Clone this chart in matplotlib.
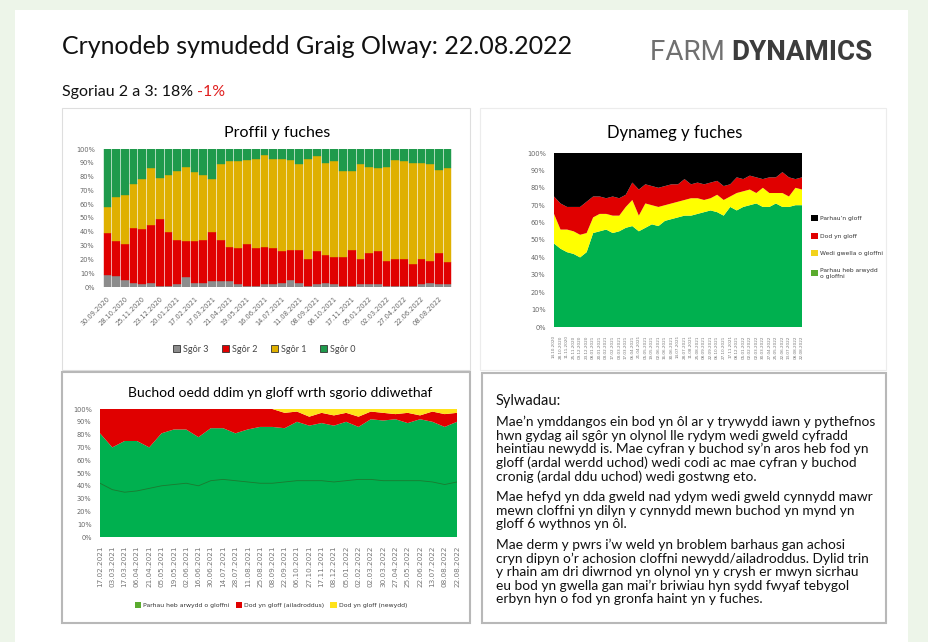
import matplotlib.pyplot as plt
from matplotlib.patches import Rectangle, Patch

plt.rcParams['font.family'] = ['Lato', 'DejaVu Sans']
NARROW = ['Liberation Sans Narrow', 'DejaVu Sans']

W, H = 929, 642

# dyddiadau sgorio
dates = ['30.09.2020', '14.10.2020', '28.10.2020', '11.11.2020', '25.11.2020',
         '09.12.2020', '23.12.2020', '08.01.2021', '20.01.2021', '03.02.2021',
         '17.02.2021', '03.03.2021', '17.03.2021', '06.04.2021', '21.04.2021',
         '05.05.2021', '19.05.2021', '02.06.2021', '16.06.2021', '30.06.2021',
         '14.07.2021', '28.07.2021', '11.08.2021', '25.08.2021', '08.09.2021',
         '22.09.2021', '06.10.2021', '27.10.2021', '17.11.2021', '08.12.2021',
         '05.01.2022', '02.02.2022', '02.03.2022', '30.03.2022', '27.04.2022',
         '25.05.2022', '22.06.2022', '13.07.2022', '08.08.2022', '22.08.2022']

# Proffil y fuches (%)
sgor3 = [9, 8, 5, 3, 2, 3, 1, 1, 2, 7, 3, 3, 4, 4, 4, 2, 1, 1, 2, 2,
         3, 5, 3, 1, 2, 3, 2, 1, 1, 2, 2, 2, 1, 1, 1, 1, 2, 3, 2, 2]
sgor2 = [30, 25, 26, 40, 40, 42, 48, 39, 32, 26, 30, 31, 36, 30, 25, 26, 30, 27, 27, 26,
         23, 22, 24, 19, 24, 20, 20, 21, 26, 18, 23, 24, 18, 19, 19, 16, 18, 16, 23, 16]
sgor1 = [19, 32, 36, 32, 36, 41, 30, 41, 50, 54, 50, 47, 38, 55, 62, 63, 61, 65, 67, 65,
         67, 65, 62, 73, 69, 67, 69, 62, 57, 69, 62, 60, 68, 72, 71, 73, 70, 70, 60, 68]
sgor0 = [42, 35, 33, 25, 22, 14, 21, 19, 16, 13, 17, 19, 22, 11, 9, 9, 8, 7, 4, 7,
         7, 8, 11, 7, 5, 10, 9, 16, 16, 11, 13, 14, 13, 8, 9, 10, 10, 11, 15, 14]

# Dynameg y fuches (%)
dyn_heb = [48, 45, 43, 42, 40, 43, 54, 55, 56, 54, 55, 57, 58, 55, 57, 59, 58, 61, 62, 63,
           64, 64, 65, 66, 67, 66, 64, 69, 67, 69, 70, 71, 69, 69, 71, 69, 69, 70, 70]
dyn_gwella = [17, 11, 13, 13, 13, 11, 9, 10, 9, 10, 9, 12, 15, 9, 14, 11, 11, 9, 9, 9,
              9, 10, 9, 7, 7, 10, 9, 6, 10, 9, 9, 6, 11, 8, 6, 8, 6, 10, 9]
dyn_dod = [10, 15, 13, 14, 16, 18, 12, 10, 9, 11, 10, 7, 10, 15, 11, 11, 11, 11, 11, 10,
           12, 8, 9, 9, 9, 8, 8, 7, 9, 7, 8, 9, 5, 9, 9, 12, 11, 5, 7]
dyn_parhau = [25, 29, 31, 31, 31, 28, 25, 25, 26, 25, 26, 24, 17, 21, 18, 19, 20, 19, 18, 18,
              15, 18, 17, 18, 17, 16, 19, 18, 14, 15, 13, 14, 15, 14, 14, 11, 14, 15, 14]

# Buchod oedd ddim yn gloff (%)
b_heb = [81, 70, 75, 75, 70, 81, 84, 84, 78, 85, 85, 81, 84, 86, 86,
         85, 90, 87, 89, 87, 90, 86, 92, 91, 92, 89, 92, 90, 86, 90]
b_ail = [19, 30, 25, 25, 30, 19, 16, 16, 22, 15, 15, 19, 16, 14, 14,
         12, 8, 7, 8, 8, 7, 8, 6, 6, 4, 8, 3, 8, 10, 7]
b_newydd = [0, 0, 0, 0, 0, 0, 0, 0, 0, 0, 0, 0, 0, 0, 0,
            3, 2, 6, 3, 5, 3, 6, 2, 3, 4, 3, 5, 2, 4, 3]
b_llinell = [42, 37, 35, 36, 38, 40, 41, 42, 40, 44, 45, 44, 43, 42, 42,
             43, 44, 44, 44, 43, 44, 45, 45, 44, 44, 44, 44, 43, 41, 43]

notes = [
    ["Mae’n ymddangos ein bod yn ôl ar y trywydd iawn y pythefnos",
     "hwn gydag ail sgôr yn olynol lle rydym wedi gweld cyfradd",
     "heintiau newydd is. Mae cyfran y buchod sy’n aros heb fod yn",
     "gloff (ardal werdd uchod) wedi codi ac mae cyfran y buchod",
     "cronig (ardal ddu uchod) wedi gostwng eto."],
    ["Mae hefyd yn dda gweld nad ydym wedi gweld cynnydd mawr",
     "mewn cloffni yn dilyn y cynnydd mewn buchod yn mynd yn",
     "gloff 6 wythnos yn ôl."],
    ["Mae derm y pwrs i’w weld yn broblem barhaus gan achosi",
     "cryn dipyn o’r achosion cloffni newydd/ailadroddus. Dylid trin",
     "y rhain am dri diwrnod yn olynol yn y crysh er mwyn sicrhau",
     "eu bod yn gwella gan mai’r briwiau hyn sydd fwyaf tebygol",
     "erbyn hyn o fod yn gronfa haint yn y fuches."],
]

pct_ticks = list(range(0, 101, 10))
pct_labels = [f'{v}%' for v in pct_ticks]


def fx(x):
    return x / W


def fy(y):
    return 1 - y / H


def px_axes(x0, y0, x1, y1):
    return fig.add_axes([fx(x0), fy(y1), (x1 - x0) / W, (y1 - y0) / H])


def box(x0, y0, x1, y1, ec, lw=1.0, fc='white'):
    fig.patches.append(Rectangle((fx(x0), fy(y1)), (x1 - x0) / W, (y1 - y0) / H,
                                 transform=fig.transFigure, fc=fc, ec=ec, lw=lw, zorder=-10))


def clean(ax):
    for s in ax.spines.values():
        s.set_visible(False)
    ax.set_ylim(0, 100)
    ax.set_yticks(pct_ticks)
    ax.set_yticklabels(pct_labels, fontsize=4.8, color='#666666', family=NARROW)
    ax.tick_params(length=0, pad=6)


fig = plt.figure(figsize=(W / 100, H / 100), dpi=100)
fig.patch.set_facecolor('#edf5e9')

# tudalen a blychau
box(15, 10, 908, 642, 'none')
box(62, 108, 470, 370, '#dedede', 0.8)
box(480, 108, 886, 370, '#ececec', 0.8)
box(62, 372, 470, 623, '#b8b8b8', 1.5)
box(482, 373, 886, 623, '#b8b8b8', 1.5)

# penawdau
fig.text(fx(62), fy(47), 'Crynodeb symudedd Graig Olway: 22.08.2022',
         fontsize=18, va='center', ha='left', color='#111111')
t = fig.text(fx(650), fy(53), 'FARM ', fontsize=20, va='center', ha='left',
             color='#707070', family='Roboto')
fig.canvas.draw()
bb = t.get_window_extent()
fig.text(bb.x1 / W, fy(53), 'DYNAMICS', fontsize=20, va='center', ha='left',
         color='#3c3c3c', family='Roboto', weight='bold')
t2 = fig.text(fx(62), fy(92), 'Sgoriau 2 a 3: 18% ', fontsize=11.5, va='center',
              ha='left', color='#111111')
fig.canvas.draw()
bb2 = t2.get_window_extent()
fig.text(bb2.x1 / W, fy(92), '-1%', fontsize=11.5, va='center', ha='left', color='#e02020')

# 1. Proffil y fuches
ax1 = px_axes(103, 149, 452, 287)
x = range(len(dates))
c3, c2, c1, c0 = '#8c8c8c', '#e00000', '#dfb000', '#1f9a4c'
bot = [0] * len(dates)
for vals, col in [(sgor3, c3), (sgor2, c2), (sgor1, c1), (sgor0, c0)]:
    ax1.bar(x, vals, bottom=bot, width=0.88, color=col, edgecolor=col, lw=0.3)
    bot = [b + v for b, v in zip(bot, vals)]
ax1.set_xlim(-0.5, len(dates) - 0.5)
clean(ax1)
ax1.set_xticks(list(x)[::2])
ax1.set_xticklabels(dates[::2], rotation=45, ha='right', fontsize=4.8, color='#666666',
                    rotation_mode='anchor', family=NARROW)
fig.text(fx(277), fy(133), 'Proffil y fuches', fontsize=11.5, ha='center', va='center')
ax1.legend(handles=[Patch(fc=c3, ec='#333333', lw=0.6, label='Sgôr 3'),
                    Patch(fc=c2, ec='#333333', lw=0.6, label='Sgôr 2'),
                    Patch(fc=c1, ec='#333333', lw=0.6, label='Sgôr 1'),
                    Patch(fc=c0, ec='#333333', lw=0.6, label='Sgôr 0')],
           ncol=4, loc='center', bbox_to_anchor=(fx(264), fy(349)),
           bbox_transform=fig.transFigure, frameon=False, fontsize=6.5,
           handlelength=0.8, handleheight=0.8, handletextpad=0.3, columnspacing=1.5,
           labelcolor='#444444')

# 2. Dynameg y fuches
ax2 = px_axes(554, 153, 802, 327)
xd = range(len(dyn_heb))
cg, cy, cr, ck = '#00b04f', '#ffff00', '#e00000', '#000000'
ax2.stackplot(xd, dyn_heb, dyn_gwella, dyn_dod, dyn_parhau, colors=[cg, cy, cr, ck], lw=0)
ax2.set_xlim(0, len(dyn_heb) - 1)
clean(ax2)
ax2.set_xticks(list(xd))
ax2.set_xticklabels(dates[1:], rotation=90, fontsize=3.0, color='#777777', family=NARROW)
fig.text(fx(675), fy(133), 'Dynameg y fuches', fontsize=12, ha='center', va='center')
ax2.legend(handles=[Patch(fc=ck, label='Parhau’n gloff'),
                    Patch(fc=cr, label='Dod yn gloff'),
                    Patch(fc='#f2d21c', label='Wedi gwella o gloffni'),
                    Patch(fc='#5aab2e', label='Parhau heb arwydd\no gloffni')],
           loc='upper left', bbox_to_anchor=(fx(806), fy(210)),
           bbox_transform=fig.transFigure, frameon=False,
           handlelength=1.1, handleheight=1.2, handletextpad=0.3, labelspacing=1.9,
           labelcolor='#333333', prop={'family': NARROW, 'size': 4.3})

# 3. Buchod oedd ddim yn gloff wrth sgorio ddiwethaf
ax3 = px_axes(100, 409, 457, 537)
xb = range(len(b_heb))
g3, r3, y3 = '#00b04f', '#e00000', '#ffe21a'
ax3.stackplot(xb, b_heb, b_ail, b_newydd, colors=[g3, r3, y3], lw=0)
ax3.plot(xb, b_llinell, color='#1b7a30', lw=0.6)
ax3.set_xlim(0, len(b_heb) - 1)
clean(ax3)
ax3.set_xticks(list(xb))
ax3.set_xticklabels(dates[10:], rotation=90, fontsize=5.2, color='#777777', family=NARROW)
fig.text(fx(280), fy(393), 'Buchod oedd ddim yn gloff wrth sgorio ddiwethaf',
         fontsize=10, ha='center', va='center')
ax3.legend(handles=[Patch(fc='#5aab2e', label='Parhau heb arwydd o gloffni'),
                    Patch(fc=r3, label='Dod yn gloff (ailadroddus)'),
                    Patch(fc=y3, label='Dod yn gloff (newydd)')],
           ncol=3, loc='center', bbox_to_anchor=(fx(271), fy(605)),
           bbox_transform=fig.transFigure, frameon=False,
           handlelength=1.1, handleheight=1.2, handletextpad=0.3, columnspacing=1.0,
           labelcolor='#333333', prop={'family': NARROW, 'size': 4.4})

# 4. Sylwadau
fig.text(fx(496), fy(401), 'Sylwadau:', fontsize=10.5, ha='left', va='center',
         color='#111111')
yy = 422
for para in notes:
    for line in para:
        fig.text(fx(496), fy(yy), line, fontsize=9.9, ha='left', va='center',
                 color='#111111')
        yy += 13.6
    yy += 7

fig.savefig('out.png', dpi=100, facecolor=fig.get_facecolor())
